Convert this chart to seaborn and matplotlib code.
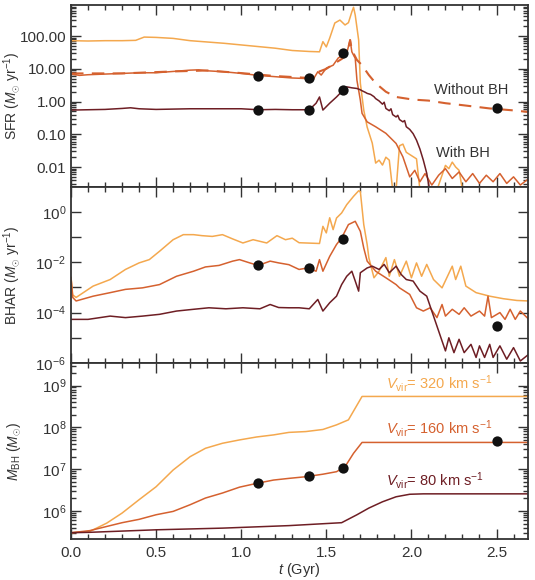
import numpy as np
import pandas as pd
import matplotlib
matplotlib.use("Agg")
import matplotlib.pyplot as plt
import seaborn as sns
from matplotlib.ticker import LogLocator, FixedLocator, FixedFormatter, MultipleLocator, NullFormatter, NullLocator

# ---------------- data (log10 values) ----------------
series_names = ["320", "160", "80"]
colors = {"320": "#F4A84E", "160": "#D5612F", "80": "#6E1E24"}

# Panel 1: SFR (log10 Msun/yr)
sfr_320_t = [0.00, 0.10, 0.20, 0.30, 0.38, 0.43, 0.50, 0.60, 0.70, 0.80, 0.90, 1.00, 1.10, 1.20, 1.30, 1.40, 1.46,
             1.48, 1.50, 1.52, 1.55, 1.58, 1.61, 1.63, 1.65, 1.66, 1.67, 1.69, 1.70, 1.72, 1.74, 1.77, 1.79, 1.81,
             1.83, 1.85, 1.87, 1.89, 1.91, 1.93, 1.95, 1.97, 2.00, 2.03, 2.05, 2.15, 2.20, 2.22, 2.24, 2.26, 2.28,
             2.30, 2.69]
sfr_320_log = [1.86, 1.85, 1.86, 1.86, 1.87, 1.97, 1.96, 1.93, 1.86, 1.82, 1.78, 1.73, 1.68, 1.63, 1.56, 1.53, 1.52,
               1.83, 1.67, 1.94, 2.40, 2.49, 2.34, 2.41, 2.74, 2.88, 2.64, 1.88, 0.56, -0.26, -0.78, -1.27, -1.88, -1.79,
               -1.94, -1.70, -1.79, -2.70, -2.70, -1.35, -1.30, -1.55, -1.65, -1.75, -2.70, -2.70, -1.95, -2.05, -1.85,
               -2.00, -2.10, -2.70, -2.70]

sfr_160_t = [0.00, 0.05, 0.10, 0.20, 0.30, 0.40, 0.50, 0.60, 0.70, 0.75, 0.80, 0.90, 1.00, 1.10, 1.20, 1.30, 1.40,
             1.42, 1.45, 1.47, 1.50, 1.54, 1.57, 1.62, 1.64, 1.65, 1.67, 1.68, 1.70, 1.71, 1.74, 1.79, 1.85, 1.91,
             1.95, 1.99, 2.02, 2.05, 2.08, 2.12, 2.16, 2.20, 2.24, 2.28, 2.32, 2.36, 2.40, 2.44, 2.48, 2.52, 2.56,
             2.60, 2.64, 2.69]
sfr_160_log = [0.84, 0.80, 0.82, 0.84, 0.86, 0.88, 0.88, 0.92, 0.96, 0.97, 0.94, 0.91, 0.86, 0.80, 0.76, 0.72, 0.70,
               0.65, 0.91, 0.81, 1.02, 1.11, 1.33, 1.48, 1.88, 1.52, 1.32, 0.65, 0.04, -0.36, -0.62, -0.77, -0.97, -1.28,
               -1.69, -2.30, -2.10, -2.45, -2.20, -2.55, -2.25, -2.05, -2.35, -2.15, -2.45, -2.20, -2.50, -2.25, -2.45,
               -2.20, -2.50, -2.30, -2.55, -2.35]

sfr_nobh_t = [0.00, 0.30, 0.60, 0.80, 1.00, 1.20, 1.40, 1.45, 1.50, 1.55, 1.59, 1.62, 1.64, 1.65, 1.68, 1.71, 1.75,
              1.79, 1.85, 1.91, 2.01, 2.10, 2.20, 2.30, 2.46, 2.60, 2.69]
sfr_nobh_log = [0.86, 0.86, 0.92, 0.95, 0.87, 0.78, 0.72, 0.90, 1.00, 1.17, 1.30, 1.42, 1.88, 1.57, 1.27, 1.11, 0.81,
                0.56, 0.30, 0.14, 0.06, 0.03, -0.05, -0.11, -0.21, -0.27, -0.32]

sfr_80_t = [0.00, 0.10, 0.20, 0.30, 0.35, 0.40, 0.50, 0.60, 0.70, 0.80, 0.90, 1.00, 1.10, 1.20, 1.30, 1.40, 1.44,
            1.46, 1.48, 1.52, 1.56, 1.59, 1.62, 1.65, 1.68, 1.70, 1.71, 1.73, 1.74, 1.76, 1.78, 1.79, 1.81, 1.83,
            1.84, 1.85, 1.87, 1.88, 1.89, 1.91, 1.92, 1.93, 1.95, 1.96, 1.97, 1.99, 2.01, 2.03, 2.05, 2.07, 2.09,
            2.11, 2.69]
sfr_80_log = [-0.26, -0.25, -0.24, -0.21, -0.19, -0.22, -0.24, -0.23, -0.22, -0.22, -0.22, -0.22, -0.25, -0.24, -0.25,
              -0.25, -0.05, 0.14, -0.26, -0.05, 0.14, 0.30, 0.45, 0.42, 0.40, 0.36, 0.33, 0.28, 0.25, 0.22, 0.15, 0.09,
              0.02, -0.08, -0.02, -0.21, -0.28, -0.22, -0.40, -0.47, -0.42, -0.55, -0.62, -0.58, -0.77, -0.85, -0.98,
              -1.18, -1.45, -1.79, -2.19, -2.80, -2.80]

# Panel 2: BHAR (log10 Msun/yr)
bhar_320_t = [0.00, 0.01, 0.03, 0.13, 0.23, 0.32, 0.40, 0.46, 0.52, 0.60, 0.66, 0.72, 0.77, 0.83, 0.89, 0.95, 1.01,
              1.07, 1.15, 1.21, 1.26, 1.30, 1.34, 1.46, 1.48, 1.50, 1.52, 1.54, 1.56, 1.59, 1.62, 1.66, 1.69, 1.70,
              1.72, 1.74, 1.75, 1.78, 1.81, 1.85, 1.87, 1.90, 1.93, 1.97, 2.00, 2.03, 2.06, 2.09, 2.13, 2.18, 2.24,
              2.26, 2.29, 2.32, 2.38, 2.46, 2.54, 2.62, 2.69]
bhar_320_log = [-2.60, -3.30, -3.40, -2.95, -2.69, -2.29, -2.03, -1.90, -1.57, -1.11, -0.91, -0.91, -0.95, -0.98,
                -0.91, -1.08, -1.24, -1.11, -1.24, -0.95, -1.11, -1.05, -1.23, -1.26, -0.58, -0.84, -0.24, -0.71, -0.25,
                -0.05, 0.28, 0.61, 0.83, 0.80, -0.51, -1.30, -1.83, -2.62, -2.36, -1.82, -2.56, -1.90, -2.56, -1.96,
                -2.62, -2.03, -2.56, -2.09, -2.69, -3.02, -2.16, -2.69, -2.16, -2.95, -3.21, -3.35, -3.45, -3.52, -3.54]

bhar_160_t = [0.00, 0.01, 0.03, 0.13, 0.23, 0.32, 0.42, 0.52, 0.62, 0.72, 0.79, 0.87, 0.95, 0.99, 1.05, 1.10, 1.17,
              1.22, 1.28, 1.34, 1.39, 1.44, 1.46, 1.48, 1.52, 1.56, 1.59, 1.63, 1.67, 1.70, 1.72, 1.74, 1.79, 1.85,
              1.91, 1.93, 1.99, 2.03, 2.07, 2.11, 2.15, 2.18, 2.20, 2.24, 2.28, 2.31, 2.35, 2.40, 2.43, 2.45, 2.47,
              2.52, 2.55, 2.58, 2.61, 2.64, 2.69]
bhar_160_log = [-2.60, -3.40, -3.54, -3.35, -3.21, -3.08, -3.02, -2.89, -2.56, -2.36, -2.19, -2.13, -1.96, -1.90,
                -2.03, -2.13, -1.96, -2.03, -2.10, -2.29, -2.23, -2.36, -1.90, -2.36, -1.77, -1.30, -1.04, -0.51,
                -0.38, -0.78, -1.44, -1.96, -2.36, -2.62, -2.89, -3.02, -3.28, -3.81, -3.94, -3.81, -4.20, -3.68,
                -4.14, -3.87, -4.07, -3.81, -4.14, -3.94, -4.14, -3.35, -4.20, -4.00, -4.27, -3.87, -4.27, -3.94, -4.27]

bhar_80_t = [0.00, 0.10, 0.23, 0.32, 0.42, 0.52, 0.62, 0.72, 0.81, 0.91, 1.01, 1.11, 1.17, 1.22, 1.28, 1.34, 1.40,
             1.45, 1.48, 1.52, 1.56, 1.59, 1.62, 1.65, 1.67, 1.69, 1.70, 1.74, 1.77, 1.81, 1.84, 1.87, 1.91, 1.94,
             1.97, 2.01, 2.05, 2.09, 2.13, 2.17, 2.20, 2.22, 2.25, 2.28, 2.31, 2.35, 2.38, 2.40, 2.43, 2.46, 2.48,
             2.52, 2.56, 2.60, 2.64, 2.69]
bhar_80_log = [-4.27, -4.27, -4.14, -4.20, -4.14, -4.07, -3.94, -3.87, -3.81, -3.85, -3.81, -3.85, -3.68, -3.80,
               -3.81, -3.81, -3.85, -3.48, -3.94, -3.61, -3.35, -2.89, -2.56, -2.36, -2.75, -3.15, -2.42, -2.23, -2.16,
               -2.29, -2.09, -2.42, -2.16, -2.49, -2.69, -2.75, -3.15, -3.35, -4.14, -4.93, -5.52, -5.00, -5.59, -5.06,
               -5.59, -5.26, -5.78, -5.32, -5.78, -5.26, -5.78, -5.32, -5.85, -5.39, -5.92, -5.65]

# Panel 3: black hole mass (log10 Msun)
mbh_320_t = [0.00, 0.11, 0.21, 0.30, 0.40, 0.50, 0.60, 0.70, 0.79, 0.89, 0.99, 1.09, 1.19, 1.28, 1.38, 1.48, 1.56,
             1.63, 1.67, 1.71, 2.69]
mbh_320_log = [5.48, 5.51, 5.71, 5.95, 6.27, 6.58, 6.98, 7.30, 7.50, 7.62, 7.70, 7.77, 7.82, 7.88, 7.90, 7.95, 8.06,
               8.18, 8.46, 8.74, 8.74]

mbh_160_t = [0.00, 0.11, 0.21, 0.30, 0.40, 0.50, 0.60, 0.70, 0.79, 0.89, 0.99, 1.09, 1.19, 1.28, 1.38, 1.48, 1.56,
             1.61, 1.66, 1.71, 2.69]
mbh_160_log = [5.48, 5.53, 5.63, 5.72, 5.80, 5.91, 5.99, 6.15, 6.31, 6.43, 6.57, 6.66, 6.74, 6.78, 6.82, 6.88, 6.94,
               7.06, 7.38, 7.64, 7.64]

mbh_80_t = [0.00, 0.11, 0.50, 0.89, 1.28, 1.59, 1.68, 1.75, 1.83, 1.91, 1.99, 2.07, 2.69]
mbh_80_log = [5.48, 5.49, 5.55, 5.59, 5.65, 5.72, 5.91, 6.07, 6.22, 6.34, 6.40, 6.41, 6.41]

# Snapshot markers
dot_t = [1.1, 1.4, 1.6, 2.5]
dot_sfr_t = [1.1, 1.1, 1.4, 1.4, 1.6, 1.6, 2.5]
dot_sfr_log = [0.79, -0.26, 0.71, -0.26, 1.47, 0.35, -0.19]
dot_bhar_log = [-2.13, -2.23, -1.07, -4.53]
dot_mbh_log = [6.67, 6.84, 7.04, 7.67]

vir_labels = ["$V_{\\rm vir}$= 320 km s$^{-1}$", "$V_{\\rm vir}$= 160 km s$^{-1}$", "$V_{\\rm vir}$= 80 km s$^{-1}$"]
vir_label_log = [9.04, 7.98, 6.74]

# ---------------- style ----------------
sns.set_style("ticks")
plt.rcParams["font.family"] = ["Liberation Sans", "DejaVu Sans"]
plt.rcParams["mathtext.fontset"] = "custom"
plt.rcParams["mathtext.rm"] = "Liberation Sans"
plt.rcParams["mathtext.it"] = "Liberation Sans:italic"
plt.rcParams["mathtext.bf"] = "Liberation Sans:bold"
txt = "#333333"
plt.rcParams["text.color"] = txt
plt.rcParams["axes.labelcolor"] = txt
plt.rcParams["xtick.color"] = txt
plt.rcParams["ytick.color"] = txt

fig = plt.figure(figsize=(5.35, 5.8), dpi=100)
L, W = 71 / 535, 457 / 535
ax1 = fig.add_axes([L, 1 - 187 / 580, W, 182 / 580])
ax2 = fig.add_axes([L, 1 - 363 / 580, W, 176 / 580])
ax3 = fig.add_axes([L, 1 - 539 / 580, W, 176 / 580])


def long_df(pairs):
    rows = []
    for name, t, lg in pairs:
        rows.append(pd.DataFrame({"t": t, "v": 10 ** np.asarray(lg, float), "s": name}))
    return pd.concat(rows, ignore_index=True)


lw = 1.1
# panel 1
ax1.set_yscale("log")
df1 = long_df([("320", sfr_320_t, sfr_320_log), ("160", sfr_160_t, sfr_160_log), ("80", sfr_80_t, sfr_80_log)])
sns.lineplot(data=df1, x="t", y="v", hue="s", palette=colors, estimator=None, sort=False, legend=False,
             ax=ax1, linewidth=lw)
dfn = pd.DataFrame({"t": sfr_nobh_t, "v": 10 ** np.asarray(sfr_nobh_log)})
sns.lineplot(data=dfn, x="t", y="v", color=colors["160"], estimator=None, sort=False, ax=ax1,
             linewidth=1.5, dashes=False, linestyle=(0, (6, 4)))
sns.scatterplot(x=dot_sfr_t, y=10 ** np.asarray(dot_sfr_log), color="#111111", s=55, ax=ax1, zorder=5,
                edgecolor="#111111", linewidth=0)
ax1.text(2.35, 10 ** 0.35, "Without BH", ha="center", va="center", fontsize=10.5, color=txt)
ax1.text(2.30, 10 ** -1.58, "With BH", ha="center", va="center", fontsize=10.5, color=txt)
ax1.set_ylim(10 ** -2.61, 10 ** 2.95)
ax1.yaxis.set_major_locator(FixedLocator([0.01, 0.1, 1, 10, 100]))
ax1.yaxis.set_major_formatter(FixedFormatter(["0.01", "0.10", "1.00", "10.00", "100.00"]))
ax1.yaxis.set_minor_locator(LogLocator(base=10, subs=np.arange(2, 10), numticks=20))
ax1.yaxis.set_minor_formatter(NullFormatter())
ax1.set_ylabel("SFR ($M_{\\odot}$ yr$^{-1}$)", fontsize=10)

# panel 2
ax2.set_yscale("log")
df2 = long_df([("320", bhar_320_t, bhar_320_log), ("160", bhar_160_t, bhar_160_log), ("80", bhar_80_t, bhar_80_log)])
sns.lineplot(data=df2, x="t", y="v", hue="s", palette=colors, estimator=None, sort=False, legend=False,
             ax=ax2, linewidth=lw)
sns.scatterplot(x=dot_t, y=10 ** np.asarray(dot_bhar_log), color="#111111", s=55, ax=ax2, zorder=5,
                edgecolor="#111111", linewidth=0)
ax2.set_ylim(1e-6, 10 ** 0.98)
ax2.yaxis.set_major_locator(FixedLocator([10.0 ** k for k in range(-6, 1)]))
ax2.yaxis.set_major_formatter(FixedFormatter(["$10^{-6}$", "", "$10^{-4}$", "", "$10^{-2}$", "", "$10^{0}$"]))
ax2.yaxis.set_minor_locator(NullLocator())
ax2.set_ylabel("BHAR ($M_{\\odot}$ yr$^{-1}$)", fontsize=10)

# panel 3
ax3.set_yscale("log")
df3 = long_df([("320", mbh_320_t, mbh_320_log), ("160", mbh_160_t, mbh_160_log), ("80", mbh_80_t, mbh_80_log)])
sns.lineplot(data=df3, x="t", y="v", hue="s", palette=colors, estimator=None, sort=False, legend=False,
             ax=ax3, linewidth=lw)
sns.scatterplot(x=dot_t, y=10 ** np.asarray(dot_mbh_log), color="#111111", s=55, ax=ax3, zorder=5,
                edgecolor="#111111", linewidth=0)
for lab, lg, name in zip(vir_labels, vir_label_log, series_names):
    ax3.text(1.85, 10 ** lg, lab, ha="left", va="center", fontsize=10.5, color=colors[name])
ax3.set_ylim(10 ** 5.33, 10 ** 9.54)
ax3.yaxis.set_major_locator(FixedLocator([1e6, 1e7, 1e8, 1e9]))
ax3.yaxis.set_major_formatter(FixedFormatter(["$10^{6}$", "$10^{7}$", "$10^{8}$", "$10^{9}$"]))
ax3.yaxis.set_minor_locator(LogLocator(base=10, subs=np.arange(2, 10), numticks=20))
ax3.yaxis.set_minor_formatter(NullFormatter())
ax3.set_ylabel("$M_{\\rm BH}$ ($M_{\\odot}$)", fontsize=10)
ax3.set_xlabel("$t$ (Gyr)", fontsize=10.5)

for ax in (ax1, ax2, ax3):
    ax.set_xlim(0, 2.685)
    ax.xaxis.set_major_locator(MultipleLocator(0.5))
    ax.xaxis.set_minor_locator(MultipleLocator(0.1))
    ax.tick_params(which="both", direction="in", top=True, right=True, labelsize=11, width=1.0)
    ax.tick_params(which="major", length=7)
    ax.tick_params(which="minor", length=3.5)
    for sp in ax.spines.values():
        sp.set_linewidth(1.3)
        sp.set_color("#333333")
        sp.set_visible(True)
    ax.yaxis.set_label_coords(-0.105, 0.5)
    ax.set_facecolor("white")
for ax in (ax1, ax2):
    ax.set_xlabel("")
    ax.tick_params(labelbottom=False)
ax3.set_xticks([0, 0.5, 1.0, 1.5, 2.0, 2.5])
ax3.set_xticklabels(["0.0", "0.5", "1.0", "1.5", "2.0", "2.5"])
ax3.tick_params(axis="x", pad=5)
ax3.xaxis.set_label_coords(0.5, -0.125)

fig.savefig("out.png", dpi=100, facecolor="white")
